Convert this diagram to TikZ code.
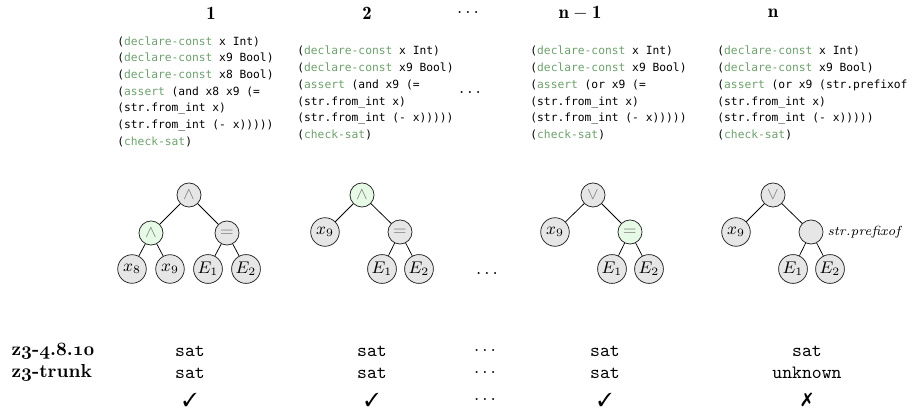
\documentclass[tikz,border=0pt]{standalone}
\usepackage{fontspec}
\usepackage{pifont}
\newfontfamily\codefont{DejaVu Sans Mono}
\usetikzlibrary{positioning}
\definecolor{kwgreen}{RGB}{110,160,110}
\definecolor{nodegray}{RGB}{230,230,230}
\definecolor{nodegreen}{RGB}{230,250,230}
\newcommand{\kw}[1]{\textcolor{kwgreen}{#1}}
\newcommand{\osf}[1]{{\fontencoding{OML}\fontfamily{cmm}\fontseries{b}\fontshape{it}\selectfont #1}}
\tikzset{op/.style={circle,draw=black!85,fill=nodegray,inner sep=0.8pt,minimum size=12.8pt,text=gray,font=\small}}
\tikzset{leaf/.style={circle,draw=black!85,fill=nodegray,inner sep=0.8pt,minimum size=15.2pt,font=\small}}
\tikzset{hl/.style={fill=nodegreen}}
\tikzset{code/.style={anchor=north west,inner sep=0pt,align=left,font=\codefont\fontsize{6}{8.9}\selectfont}}
\tikzset{hd/.style={font=\bfseries}}
\tikzset{res/.style={font=\ttfamily}}

\begin{document}
\begin{tikzpicture}[x=0.532pt,y=-0.532pt]
\useasboundingbox (0,0) rectangle (913,411);

% headers
\node[hd] (h1) at (211,13) {$\mathbf{1}$};
\node[hd] (h2) at (367,13) {$\mathbf{2}$};
\node (hd) at (468,13) {$\dots$};
\node[hd] (hn1) at (580,13) {$\mathbf{n-1}$};
\node[hd] (hn) at (773,13) {$\mathbf{n}$};

% smt-lib inputs
\node[code] (c1) at (117,36) {(\kw{declare-const} x Int)\\(\kw{declare-const} x9 Bool)\\(\kw{declare-const} x8 Bool)\\(\kw{assert} (and x8 x9 (=\\(str.from\_int x)\\(str.from\_int (- x)))))\\(\kw{check-sat})};
\node[code] (c2) at (297,46) {(\kw{declare-const} x Int)\\(\kw{declare-const} x9 Bool)\\(\kw{assert} (and x9 (=\\(str.from\_int x)\\(str.from\_int (- x)))))\\(\kw{check-sat})};
\node (cd) at (470,93) {$\dots$};
\node[code] (cn1) at (530,46) {(\kw{declare-const} x Int)\\(\kw{declare-const} x9 Bool)\\(\kw{assert} (or x9 (=\\(str.from\_int x)\\(str.from\_int (- x)))))\\(\kw{check-sat})};
\node[code] (cn) at (717,46) {(\kw{declare-const} x Int)\\(\kw{declare-const} x9 Bool)\\(\kw{assert} (or x9 (str.prefixof\\(str.from\_int x)\\(str.from\_int (- x)))))\\(\kw{check-sat})};

% tree 1
\node[op] (r1) at (189,195) {$\wedge$};
\node[op,hl] (a1) at (151,233) {$\wedge$};
\node[op] (e1) at (227,233) {$=$};
\node[leaf] (x81) at (132,269) {$x_8$};
\node[leaf] (x91) at (170,269) {$x_9$};
\node[leaf] (E11) at (208,269) {$E_1$};
\node[leaf] (E21) at (246,269) {$E_2$};
\draw (r1) -- (a1); \draw (r1) -- (e1);
\draw (a1) -- (x81); \draw (a1) -- (x91);
\draw (e1) -- (E11); \draw (e1) -- (E21);

% tree 2
\node[op,hl] (r2) at (362,195) {$\wedge$};
\node[leaf] (x92) at (325,232) {$x_9$};
\node[op] (e2) at (400,232) {$=$};
\node[leaf] (E12) at (382,269) {$E_1$};
\node[leaf] (E22) at (419,269) {$E_2$};
\draw (r2) -- (x92); \draw (r2) -- (e2);
\draw (e2) -- (E12); \draw (e2) -- (E22);

\node (td) at (487,274) {$\dots$};

% tree n-1
\node[op] (r3) at (593,195) {$\vee$};
\node[leaf] (x93) at (555,232) {$x_9$};
\node[op,hl] (e3) at (630,232) {$=$};
\node[leaf] (E13) at (612,269) {$E_1$};
\node[leaf] (E23) at (649,269) {$E_2$};
\draw (r3) -- (x93); \draw (r3) -- (e3);
\draw (e3) -- (E13); \draw (e3) -- (E23);

% tree n
\node[op] (r4) at (773,195) {$\vee$};
\node[leaf] (x94) at (736,232) {$x_9$};
\node[op] (p4) at (811,232) {};
\node[right=2pt of p4,font=\scriptsize\itshape,inner sep=0pt] (pl) {str.prefixof};
\node[leaf] (E14) at (793,269) {$E_1$};
\node[leaf] (E24) at (830,269) {$E_2$};
\draw (r4) -- (x94); \draw (r4) -- (p4);
\draw (p4) -- (E14); \draw (p4) -- (E24);

% results
\node[hd,anchor=west] (v1) at (5,351) {z\osf{3}-\osf{4}.\osf{8}.\osf{10}};
\node[hd,anchor=west] (v2) at (5,373) {z\osf{3}-trunk};
\foreach \c/\n/\a/\b/\m in {190/1/sat/sat/51, 372/2/sat/sat/51, 605/3/sat/sat/51, 807/4/sat/unknown/55} {
  \node[res] (s\n) at (\c,351) {\a};
  \node[res] (t\n) at (\c,373) {\b};
  \node (k\n) at (\c,400) {\ding{\m}};
}
\node (d1) at (485,351) {$\dots$};
\node (d2) at (485,373) {$\dots$};
\node (d3) at (485,400) {$\dots$};

\end{tikzpicture}
\end{document}
